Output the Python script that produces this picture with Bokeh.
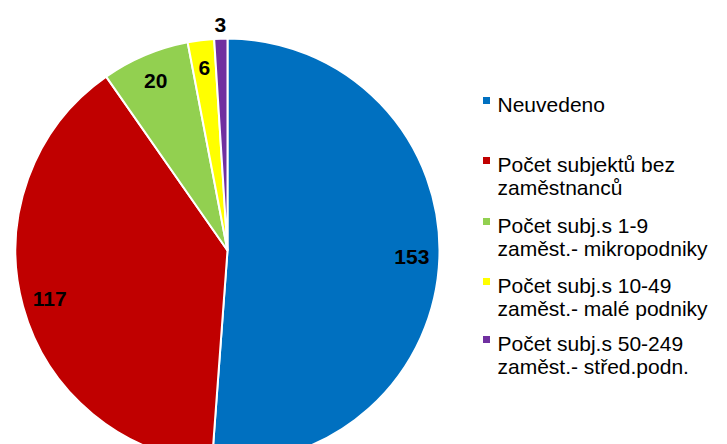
import math
from bokeh.plotting import figure
from bokeh.models import ColumnDataSource
from bokeh.core.properties import value
from bokeh.embed import file_html
from bokeh.resources import INLINE

# ---- data ----
categories = [
    "Neuvedeno",
    "Počet subjektů bez\nzaměstnanců",
    "Počet subj.s 1-9\nzaměst.- mikropodniky",
    "Počet subj.s 10-49\nzaměst.- malé podniky",
    "Počet subj.s 50-249\nzaměst.- střed.podn.",
]
values = [153, 117, 20, 6, 3]
colors = ["#0070C0", "#C00000", "#92D050", "#FFFF00", "#7030A0"]

# ---- layout ----
W, H = 727, 444


def sx(x):
    return x


def sy(y):
    return H - y


FONT = "Liberation Sans"
cx, cy = sx(227), sy(250)
R = 212

p = figure(width=W, height=H, x_range=(0, W), y_range=(0, H),
           output_backend="svg", toolbar_location=None, min_border=0,
           x_axis_location=None, y_axis_location=None)
p.grid.visible = False
p.outline_line_color = None
p.background_fill_color = "white"
p.border_fill_color = "white"

total = sum(values)
starts, ends, lx, ly = [], [], [], []
cum = 0
for v in values:
    a0 = math.pi / 2 - 2 * math.pi * cum / total
    cum += v
    a1 = math.pi / 2 - 2 * math.pi * cum / total
    starts.append(a0)
    ends.append(a1)
    m = (a0 + a1) / 2
    r = 0.87 * R if v / total > 0.015 else R + 14
    lx.append(cx + r * math.cos(m))
    ly.append(cy + r * math.sin(m))

src = ColumnDataSource(dict(start=starts, end=ends, color=colors,
                            val=[str(v) for v in values], lx=lx, ly=ly))

p.wedge(x=cx, y=cy, radius=R, start_angle="start", end_angle="end",
        direction="clock", fill_color="color", line_color="white",
        line_width=2, source=src)

p.text(x="lx", y="ly", text="val", source=src, text_align="center",
       text_baseline="middle", text_font=value(FONT),
       text_font_size="21px", text_font_style="bold", text_color="black")

# ---- legend (manual) ----
leg_sq_x = sx(486)
leg_txt_x = sx(497)
leg_y = [100, 160, 221, 281, 339]
line_gap = 23

p.scatter(x=[leg_sq_x] * len(values), y=[sy(y) for y in leg_y],
          marker="square", size=7, fill_color=colors, line_color=None)

tx, ty, tt = [], [], []
for y, lab in zip(leg_y, categories):
    for i, line in enumerate(lab.split("\n")):
        tx.append(leg_txt_x)
        ty.append(sy(y + 4 + i * line_gap))
        tt.append(line)

p.text(x=tx, y=ty, text=tt, text_align="left", text_baseline="alphabetic",
       text_font=value(FONT), text_font_size="21px", text_color="black")

open("out.html", "w").write(file_html(p, INLINE))
